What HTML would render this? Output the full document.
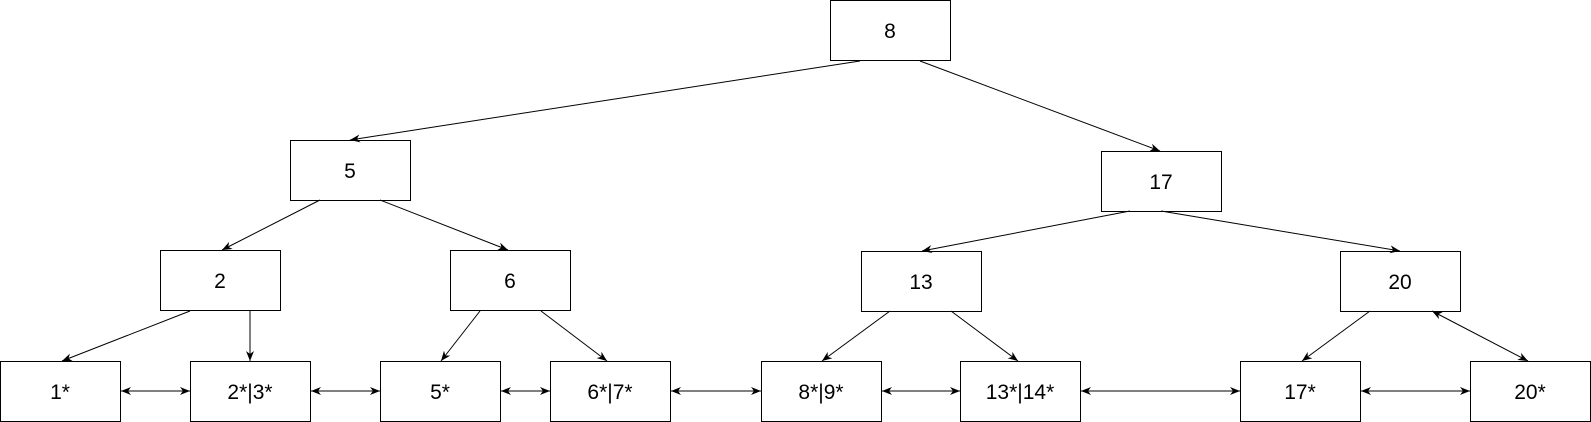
<!DOCTYPE html>
<html><head><meta charset="utf-8"><style>
html,body{margin:0;padding:0;background:#fff;}
svg{display:block;}
text{font-family:"Liberation Sans",sans-serif;font-size:21px;fill:#000;}
</style></head><body>
<svg width="1591" height="422" viewBox="0 0 1591 422" xmlns="http://www.w3.org/2000/svg">
<defs>
<marker id="a" viewBox="0 0 10 10" refX="10" refY="5" markerWidth="10" markerHeight="10" orient="auto-start-reverse" markerUnits="userSpaceOnUse">
<path d="M0,1 L10,5 L0,9 L3,5 z" fill="#000"/></marker>
</defs>
<g fill="#fff" stroke="#000" stroke-width="1">
<rect x="830.5" y="0.5" width="120" height="60"/>
<rect x="290.5" y="140.5" width="120" height="60"/>
<rect x="1101.5" y="151.5" width="120" height="60"/>
<rect x="160.5" y="250.5" width="120" height="60"/>
<rect x="450.5" y="250.5" width="120" height="60"/>
<rect x="861.5" y="251.5" width="120" height="60"/>
<rect x="1340.5" y="251.5" width="120" height="60"/>
<rect x="0.5" y="361.5" width="120" height="60"/>
<rect x="190.5" y="361.5" width="120" height="60"/>
<rect x="380.5" y="361.5" width="120" height="60"/>
<rect x="550.5" y="361.5" width="120" height="60"/>
<rect x="761.5" y="361.5" width="120" height="60"/>
<rect x="960.5" y="361.5" width="120" height="60"/>
<rect x="1240.5" y="361.5" width="120" height="60"/>
<rect x="1470.5" y="361.5" width="120" height="60"/>
</g>
<g stroke="#000" stroke-width="1" fill="none" marker-end="url(#a)">
<line x1="860" y1="61" x2="350" y2="140"/>
<line x1="920" y1="61" x2="1160" y2="151"/>
<line x1="320" y1="200" x2="222" y2="250"/>
<line x1="380" y1="200" x2="508" y2="250"/>
<line x1="190" y1="311" x2="62" y2="361"/>
<line x1="250" y1="311" x2="250" y2="361"/>
<line x1="480" y1="311" x2="441" y2="361"/>
<line x1="541" y1="311" x2="607" y2="361"/>
<line x1="1130" y1="211" x2="922" y2="251"/>
<line x1="1161" y1="211" x2="1400" y2="251"/>
<line x1="890" y1="311" x2="822" y2="361"/>
<line x1="951" y1="311" x2="1018" y2="361"/>
<line x1="1370" y1="311" x2="1302" y2="361"/>
<g marker-start="url(#a)">
<line x1="1432" y1="311" x2="1528" y2="361"/>
<line x1="121" y1="391" x2="190" y2="391"/>
<line x1="311" y1="391" x2="380" y2="391"/>
<line x1="501" y1="391" x2="550" y2="391"/>
<line x1="671" y1="391" x2="761" y2="391"/>
<line x1="882" y1="391" x2="960" y2="391"/>
<line x1="1081" y1="391" x2="1240" y2="391"/>
<line x1="1361" y1="391" x2="1470" y2="391"/>
</g>
</g>
<g text-anchor="middle">
<text x="890" y="38">8</text>
<text x="350" y="178">5</text>
<text x="1161" y="189">17</text>
<text x="220" y="288">2</text>
<text x="510" y="288">6</text>
<text x="921" y="289">13</text>
<text x="1400" y="289">20</text>
<text x="60" y="399">1*</text>
<text x="250" y="399">2*|3*</text>
<text x="440" y="399">5*</text>
<text x="610" y="399">6*|7*</text>
<text x="821" y="399">8*|9*</text>
<text x="1020" y="399">13*|14*</text>
<text x="1300" y="399">17*</text>
<text x="1530" y="399">20*</text>
</g>
</svg>
</body></html>
